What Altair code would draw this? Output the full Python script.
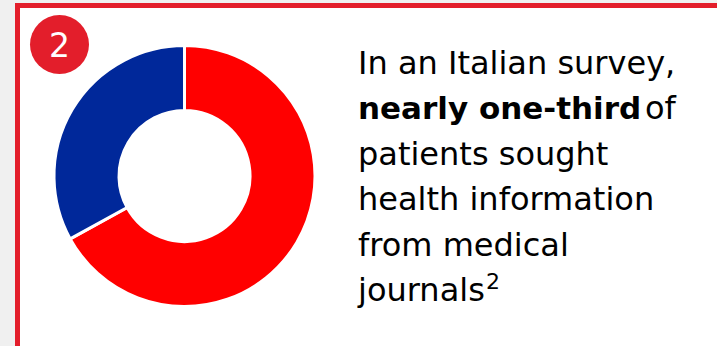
import altair as alt
import pandas as pd

# Donut data
sources = ["Other sources", "Medical journals"]
shares = [67, 33]
slice_colors = ["#FF0000", "#00289A"]

# Text content
regular_lines = ["In an Italian survey,", "patients sought", "health information", "from medical", "journals"]
regular_line_idx = [0, 2, 3, 4, 5]
bold_text = ["nearly one-third"]
bold_line_idx = [1]
after_bold = ["of"]
superscript = ["2"]
badge_label = ["2"]

FONT = "DejaVu Sans"
BORDER_RED = "#E31E2B"

donut_df = pd.DataFrame({"source": sources, "share": shares, "order": [0, 1]})
reg_df = pd.DataFrame({"text": regular_lines, "line": regular_line_idx})
bold_df = pd.DataFrame({"text": bold_text, "line": bold_line_idx})
of_df = pd.DataFrame({"text": after_bold, "line": bold_line_idx})
sup_df = pd.DataFrame({"text": superscript})
badge_df = pd.DataFrame({"text": badge_label})

yscale = alt.Scale(domain=[0, 5], range=[74, 301])

card = alt.Chart(badge_df).mark_rect(
    fill="white", stroke=BORDER_RED, strokeWidth=5
).encode(
    x=alt.value(17.5), x2=alt.value(730), y=alt.value(5.5), y2=alt.value(360)
)

donut = alt.Chart(donut_df).mark_arc(
    innerRadius=65.5, outerRadius=130.5, stroke="white", strokeWidth=3
).encode(
    theta=alt.Theta("share:Q", stack=True),
    order=alt.Order("order:Q"),
    color=alt.Color("source:N", scale=alt.Scale(domain=sources, range=slice_colors), legend=None),
    x=alt.value(184.5),
    y=alt.value(176),
)

badge = alt.Chart(badge_df).mark_circle(size=3481, color=BORDER_RED, opacity=1).encode(
    x=alt.value(59.5), y=alt.value(44.5)
)
badge_text = alt.Chart(badge_df).mark_text(
    font=FONT, fontSize=33, color="white", align="center", baseline="alphabetic"
).encode(x=alt.value(59.5), y=alt.value(57), text="text:N")

reg_text = alt.Chart(reg_df).mark_text(
    font=FONT, fontSize=32, color="black", align="left", baseline="alphabetic"
).encode(
    x=alt.value(358), y=alt.Y("line:Q", scale=yscale, axis=None), text="text:N"
)
bold_t = alt.Chart(bold_df).mark_text(
    font=FONT, fontSize=31, fontWeight="bold", color="black", align="left", baseline="alphabetic"
).encode(
    x=alt.value(358), y=alt.Y("line:Q", scale=yscale, axis=None), text="text:N"
)
of_t = alt.Chart(of_df).mark_text(
    font=FONT, fontSize=32, color="black", align="left", baseline="alphabetic"
).encode(
    x=alt.value(645), y=alt.Y("line:Q", scale=yscale, axis=None), text="text:N"
)
sup_t = alt.Chart(sup_df).mark_text(
    font=FONT, fontSize=22, color="black", align="left", baseline="alphabetic"
).encode(x=alt.value(486), y=alt.value(289), text="text:N")

chart = alt.layer(card, donut, badge, badge_text, reg_text, bold_t, of_t, sup_t).properties(
    width=717, height=346, padding=0, autosize=alt.AutoSizeParams(type="none"),
    background="#F0F0F0",
).configure_view(stroke=None)

chart.save("out.html", embed_options={"renderer": "svg", "actions": False})
